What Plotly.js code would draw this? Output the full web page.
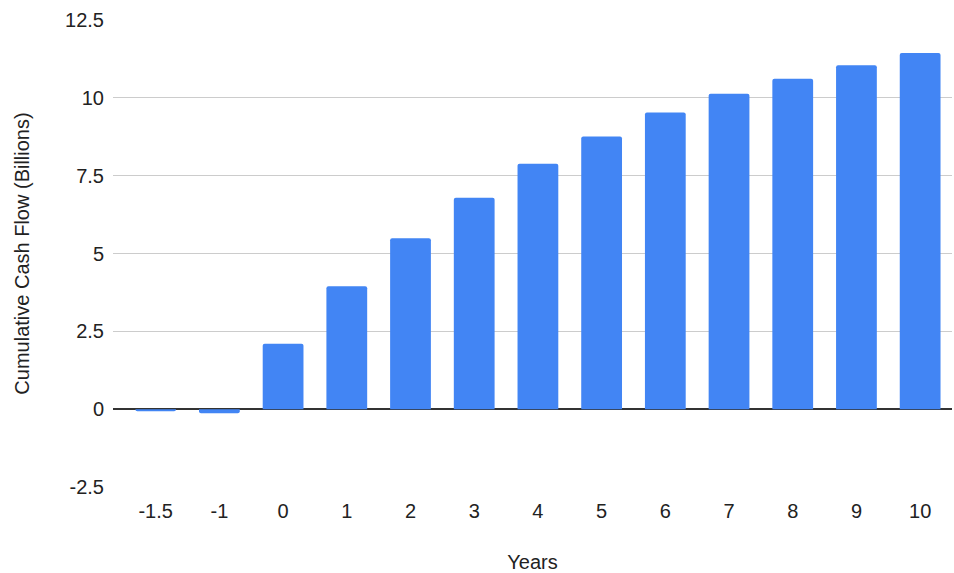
<!DOCTYPE html>
<html>
<head>
<meta charset="utf-8">
<script src="https://cdn.plot.ly/plotly-3.0.1.min.js"></script>
<style>html,body{margin:0;padding:0;background:#fff;}#chart{width:954px;height:573px;}</style>
</head>
<body>
<div id="chart"></div>
<script>
const years = ["-1.5", "-1", "0", "1", "2", "3", "4", "5", "6", "7", "8", "9", "10"];
const cumulativeCashFlow = [-0.07, -0.13, 2.10, 3.95, 5.49, 6.79, 7.88, 8.76, 9.53, 10.13, 10.61, 11.05, 11.44];
const yTickValues = [-2.5, 0, 2.5, 5, 7.5, 10, 12.5];
const yTickLabels = ["-2.5", "0", "2.5", "5", "7.5", "10", "12.5"];

const font = "Arial, 'Liberation Sans', sans-serif";

Plotly.newPlot("chart", [{
  type: "bar",
  x: years,
  y: cumulativeCashFlow,
  marker: {color: "#4285F4", cornerradius: 2},
  width: 0.64,
  hoverinfo: "x+y"
}], {
  width: 954, height: 573,
  margin: {l: 113, r: 2, t: 20, b: 86},
  paper_bgcolor: "#fff", plot_bgcolor: "#fff",
  showlegend: false,
  font: {family: font, size: 20, color: "#222"},
  xaxis: {
    type: "category",
    range: [-0.67, 12.5],
    showgrid: false, zeroline: false, showline: false,
    ticks: "",
    ticklabelstandoff: 10,
    tickfont: {family: font, size: 20, color: "#222"},
    title: {text: "Years", font: {family: font, size: 20, color: "#222"}, standoff: 35}
  },
  yaxis: {
    range: [-2.5, 12.5],
    tickvals: yTickValues,
    ticktext: yTickLabels,
    showgrid: true, gridcolor: "#cccccc", gridwidth: 1,
    zeroline: true, zerolinecolor: "#333333", zerolinewidth: 1.5,
    showline: false, ticks: "",
    ticklabelstandoff: 8,
    tickfont: {family: font, size: 20, color: "#222"},
    title: {text: "Cumulative Cash Flow (Billions)", font: {family: font, size: 20, color: "#222"}, standoff: 30}
  }
}, {displayModeBar: false, staticPlot: true});
</script>
</body>
</html>
